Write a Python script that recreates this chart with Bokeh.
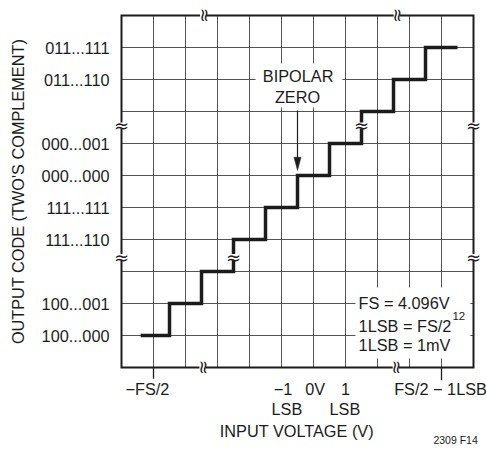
import math
from bokeh.plotting import figure
from bokeh.models import Range1d
from bokeh.core.properties import value
from bokeh.embed import file_html
from bokeh.resources import INLINE

# ---------------- data ----------------
code_levels = [1, 2, 3, 4, 5, 6, 7, 8, 9, 10]          # output code rows
transition_x = [1.5, 2.5, 3.5, 4.5, 5.5, 6.5, 7.5, 8.5, 9.5]  # code transitions
stair_start = 0.6
stair_end = 10.5

y_tick_rows = [10, 9, 7, 6, 5, 4, 2, 1]
y_tick_labels = ["011...111", "011...110", "000...001", "000...000",
                 "111...111", "111...110", "100...001", "100...000"]

x_row1_pos = [0.81, 5.05, 6.05, 7.0, 9.97]
x_row1_labels = ["\u2212FS/2", "\u22121", "0V", "1", "FS/2 \u2212 1LSB"]
x_row2_pos = [5.17, 6.98]
x_row2_labels = ["LSB", "LSB"]
x_stub_ticks = [1, 10]

y_title = "OUTPUT CODE (TWO'S COMPLEMENT)"
x_title = "INPUT VOLTAGE (V)"
fig_id = "2309 F14"

note_lines = ["FS = 4.096V", "1LSB = FS/2", "1LSB = 1mV"]
note_sup = "12"
bipolar_lines = ["BIPOLAR", "ZERO"]
bipolar_x = 5.5   # 0V minus half LSB transition

# axis-break marks on horizontal lines / on vertical lines
breaks_h = [(2.55, 11), (8.6, 11), (2.53, 0), (8.57, 0)]
breaks_v = [(0, 7.56), (0, 3.45), (11, 7.56), (11, 3.45), (3.5, 3.45), (7.5, 7.56)]

N = 11
# --------------------------------------

FONT = "Liberation Sans"
FS = "16.3px"
INK = "#1c1c1c"
GRID = "#555555"

p = figure(width=487, height=450, output_backend="svg", toolbar_location=None,
           x_axis_type=None, y_axis_type=None,
           x_range=Range1d(-121 / 32, 366 / 32), y_range=Range1d(-83 / 32, 367 / 32),
           min_border=0, outline_line_color=None)
p.background_fill_color = "white"

# grid
inner = list(range(1, N))
p.segment(x0=inner, y0=[0] * len(inner), x1=inner, y1=[N] * len(inner),
          line_color=GRID, line_width=1)
p.segment(x0=[0] * len(inner), y0=inner, x1=[N] * len(inner), y1=inner,
          line_color=GRID, line_width=1)

# frame
p.quad(left=[0], right=[N], bottom=[0], top=[N], fill_color=None,
       line_color=INK, line_width=2, line_join="miter")

# tick stubs below frame
p.segment(x0=x_stub_ticks, y0=[0, 0], x1=x_stub_ticks, y1=[-0.35, -0.4],
          line_color=INK, line_width=1.3)

# staircase
sx = [stair_start] + transition_x + [stair_end]
sy = code_levels + [code_levels[-1]]
p.step(sx, sy, mode="after", line_width=3.5, line_color=INK, line_join="miter")

# white boxes behind texts
p.quad(left=[4.19, 7.31], right=[6.9, 10.9], bottom=[8.125, 0.28], top=[9.5, 2.5],
       fill_color="white", line_color=None)

# breaks
bh_x = [b[0] for b in breaks_h]; bh_y = [b[1] for b in breaks_h]
bv_x = [b[0] for b in breaks_v]; bv_y = [b[1] for b in breaks_v]
p.rect(x=bh_x, y=bh_y, width=0.19, height=0.16, fill_color="white", line_color=None)
p.rect(x=bv_x, y=bv_y, width=0.18, height=0.19, fill_color="white", line_color=None)
p.text(x=bh_x, y=bh_y, text=["\u2248"] * len(bh_x), angle=math.pi / 2,
       text_font=value("DejaVu Sans"), text_font_size="18px", text_color=INK,
       text_align="center", text_baseline="middle")
p.text(x=bv_x, y=bv_y, text=["\u2248"] * len(bv_x),
       text_font=value("DejaVu Sans"), text_font_size="18px", text_color=INK,
       text_align="center", text_baseline="middle")

# y tick labels
p.text(x=[-0.375] * len(y_tick_rows), y=y_tick_rows, text=y_tick_labels,
       text_font=value(FONT), text_font_size=FS, text_color=INK,
       text_align="right", text_baseline="middle")

# x labels
p.text(x=x_row1_pos, y=[-0.66] * len(x_row1_pos), text=x_row1_labels,
       text_font=value(FONT), text_font_size=FS, text_color=INK,
       text_align="center", text_baseline="middle")
p.text(x=x_row2_pos, y=[-1.31] * len(x_row2_pos), text=x_row2_labels,
       text_font=value(FONT), text_font_size=FS, text_color=INK,
       text_align="center", text_baseline="middle")

# axis titles
p.text(x=[5.48], y=[-1.97], text=[x_title], text_font=value(FONT),
       text_font_size=FS, text_color=INK, text_align="center", text_baseline="middle")
p.text(x=[-3.25], y=[5.5], text=[y_title], angle=math.pi / 2, text_font=value(FONT),
       text_font_size=FS, text_color=INK, text_align="center", text_baseline="middle")
p.text(x=[10.44], y=[-2.25], text=[fig_id], text_font=value(FONT),
       text_font_size="10.5px", text_color=INK, text_align="center", text_baseline="middle")

# note box
p.text(x=[7.41] * 3, y=[2.03, 1.31, 0.69], text=note_lines, text_font=value(FONT),
       text_font_size=FS, text_color=INK, text_align="left", text_baseline="middle")
p.text(x=[10.34], y=[1.62], text=[note_sup], text_font=value(FONT),
       text_font_size="11.5px", text_color=INK, text_align="left", text_baseline="middle")

# bipolar zero label and arrow
p.text(x=[5.52, 5.5], y=[9.125, 8.44], text=bipolar_lines, text_font=value(FONT),
       text_font_size=FS, text_color=INK, text_align="center", text_baseline="middle")
tip_y = 6.16
head_len = 0.41
head_half = 0.11
p.segment(x0=[bipolar_x], y0=[8.03], x1=[bipolar_x], y1=[tip_y + head_len * 0.8],
          line_color=INK, line_width=1.2)
p.patch(x=[bipolar_x - head_half, bipolar_x + head_half, bipolar_x],
        y=[tip_y + head_len, tip_y + head_len, tip_y], fill_color=INK, line_color=INK,
        line_width=0.5)

open("out.html", "w").write(file_html(p, INLINE))
